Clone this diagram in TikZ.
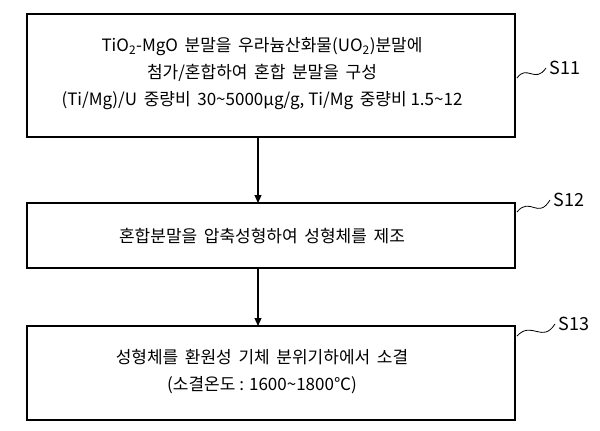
\documentclass[tikz,border=0pt]{standalone}
\usepackage{fontspec}
\setmainfont{Noto Sans CJK KR}
\usetikzlibrary{arrows.meta}
\begin{document}
\begin{tikzpicture}[x=1pt,y=-1pt,
  stepbox/.style={draw,line width=1.6pt,inner sep=0pt},
  txt/.style={font=\fontsize{17}{27}\selectfont,align=center},
  arr/.style={line width=1.2pt,-{Triangle[length=8pt,width=7pt]}},
  wav/.style={line width=0.8pt}]
\useasboundingbox (0,0) rectangle (600,431);
\draw[stepbox] (27,14) rectangle (515,137);
\node[txt] (t1) at (262,74) {TiO\textsubscript{2}-MgO\, 분말을\, 우라늄산화물(UO\textsubscript{2})분말에\\첨가/혼합하여\, 혼합\, 분말을\, 구성\\(Ti/Mg)/U\, 중량비\, 30\textasciitilde5000\textit{μg}/g, Ti/Mg\, 중량비 1.5\textasciitilde12};
\coordinate (b1) at (258,137);
\draw[stepbox] (27,203) rectangle (515,268);
\coordinate (b2t) at (258,203);
\coordinate (b2) at (258,268);
\node[txt] (t2) at (262,236) {혼합분말을\, 압축성형하여\, 성형체를\, 제조};
\draw[stepbox] (27,326) rectangle (515,420);
\coordinate (b3t) at (258,326);
\node[txt] (t3) at (262,372) {성형체를\, 환원성\, 기체\, 분위기하에서\, 소결\\(소결온도 : 1600\textasciitilde1800℃)};
\draw[arr] (b1) -- (b2t);
\draw[arr] (b2) -- (b3t);
\node[font=\fontsize{18}{20}\selectfont,anchor=west] (s11) at (546,68) {S11};
\node[font=\fontsize{18}{20}\selectfont,anchor=west] (s12) at (550,200) {S12};
\node[font=\fontsize{18}{20}\selectfont,anchor=west] (s13) at (555,324) {S13};
\coordinate (w1) at (517,78);
\coordinate (w2) at (517,212);
\coordinate (w3) at (517,336);
\draw[wav] (w1) .. controls (527,64) and (535,84) .. (s11.west);
\draw[wav] (w2) .. controls (530,196) and (538,220) .. (s12.west);
\draw[wav] (w3) .. controls (532,320) and (542,344) .. (s13.west);
\end{tikzpicture}
\end{document}
